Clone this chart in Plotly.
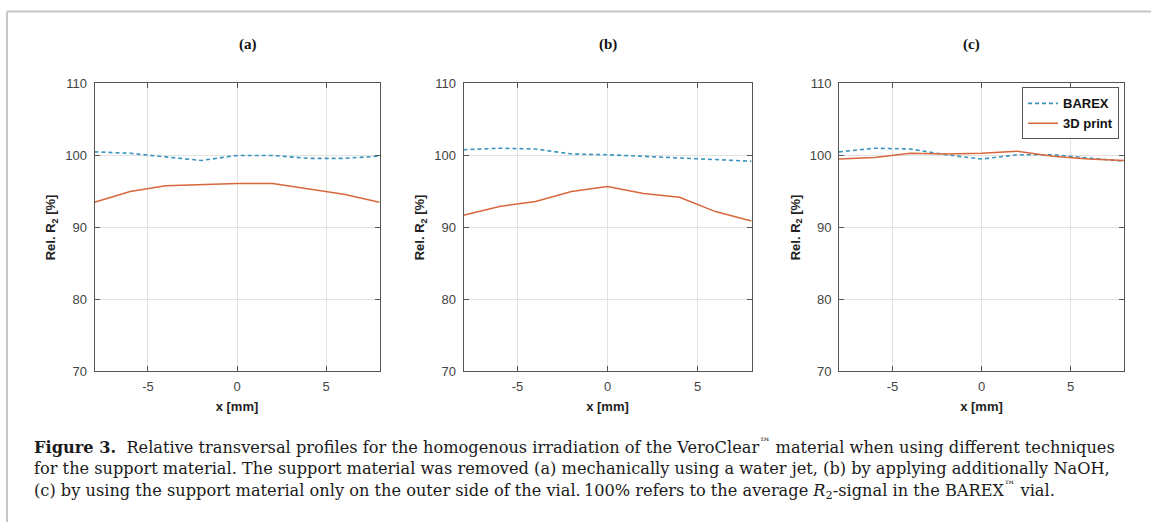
import plotly.graph_objects as go

# Transversal position of the profile samples (mm)
x_mm = [-8, -6, -4, -2, 0, 2, 4, 6, 8]

# Relative R2 (%) per panel: BAREX reference vial vs. 3D printed vial
barex_a = [100.5, 100.3, 99.8, 99.3, 100.0, 100.0, 99.6, 99.6, 99.9]
print_a = [93.5, 95.0, 95.8, 96.0, 96.1, 96.1, 95.3, 94.6, 93.5]

barex_b = [100.8, 101.0, 100.9, 100.2, 100.1, 99.9, 99.6, 99.4, 99.2]
print_b = [91.7, 92.9, 93.6, 95.0, 95.7, 94.7, 94.2, 92.2, 90.9]

barex_c = [100.5, 101.0, 100.9, 100.1, 99.5, 100.1, 100.1, 99.6, 99.2]
print_c = [99.5, 99.7, 100.3, 100.2, 100.3, 100.6, 99.9, 99.5, 99.3]

panel_titles = ["(a)", "(b)", "(c)"]
series_names = ["BAREX", "3D print"]
x_ticks = [-5, 0, 5]
x_tick_text = ["-5", "0", "5"]
y_ticks = [70, 80, 90, 100, 110]

caption_lines = [
    "<b>Figure 3.</b>  Relative transversal profiles for the homogenous irradiation of the VeroClear<sup>™</sup> material when using different techniques",
    "for the support material. The support material was removed (a) mechanically using a water jet, (b) by applying additionally NaOH,",
    "(c) by using the support material only on the outer side of the vial.\u2009100% refers to the average <i>R</i><sub>2</sub>-signal in the BAREX<sup>™</sup> vial.",
]

# ---- layout geometry (pixels from top-left of the figure) ----
W, H = 1151, 530
left_px = [94.5, 463.5, 839.0]
right_px = [379.5, 751.5, 1124.0]
top_px, bottom_px = 78.7, 375.0
title_px = 38.6
caption_px = [452.2, 474.8, 497.4]
frame_top_px, frame_left_px = 4.6, 7
legend_right_px, legend_top_px = 1119, 82.8

BLUE = "#3a95bf"
ORANGE = "#d8683c"
AXIS = "#555555"
GRID = "#e2e2e2"
SANS = "Arial, Liberation Sans, sans-serif"
SERIF = "Liberation Serif, Times New Roman, serif"
CAPTION_SERIF = "DejaVu Serif, serif"


def px_x(p):
    return p / W


def px_y(p):
    return 1 - p / H


fig = go.Figure()
data = [(barex_a, print_a), (barex_b, print_b), (barex_c, print_c)]

for i, (barex, printed) in enumerate(data):
    sfx = "" if i == 0 else str(i + 1)
    fig.add_trace(go.Scatter(
        x=x_mm, y=barex, mode="lines", name=series_names[0],
        line=dict(color=BLUE, width=1.6, dash="4px,3px"),
        xaxis="x" + sfx, yaxis="y" + sfx, showlegend=(i == 2)))
    fig.add_trace(go.Scatter(
        x=x_mm, y=printed, mode="lines", name=series_names[1],
        line=dict(color=ORANGE, width=1.5),
        xaxis="x" + sfx, yaxis="y" + sfx, showlegend=(i == 2)))

    common = dict(
        showline=True, linecolor=AXIS, linewidth=1, mirror="ticks",
        ticks="inside", ticklen=5, tickcolor=AXIS, tickwidth=1,
        showgrid=True, gridcolor=GRID, gridwidth=1, zeroline=False,
        tickfont=dict(family=SANS, size=13, color="#444444"),
    )
    fig.update_layout(**{
        "xaxis" + sfx: dict(
            common, domain=[px_x(left_px[i]), px_x(right_px[i])],
            anchor="y" + sfx, range=[-8, 8],
            tickmode="array", tickvals=x_ticks, ticktext=x_tick_text,
            ticklabelstandoff=3,
            title=dict(text="<b>x [mm]</b>", standoff=8,
                       font=dict(family=SANS, size=13, color="#222222")),
        ),
        "yaxis" + sfx: dict(
            common, domain=[px_y(bottom_px), px_y(top_px)],
            anchor="x" + sfx, range=[70, 110],
            tickmode="array", tickvals=y_ticks,
            ticklabelstandoff=4,
            title=dict(text="<b>Rel. R<sub>2</sub> [%]</b>", standoff=6,
                       font=dict(family=SANS, size=13, color="#222222")),
        ),
    })
    fig.add_annotation(
        x=(px_x(left_px[i]) + px_x(right_px[i])) / 2, y=px_y(title_px),
        xref="paper", yref="paper", yanchor="middle", showarrow=False,
        text="<b>%s</b>" % panel_titles[i],
        font=dict(family=SERIF, size=15, color="#111111"))

# Caption below the panels
for k, line in enumerate(caption_lines):
    fig.add_annotation(
        x=px_x(32), y=px_y(caption_px[k]), xref="paper", yref="paper",
        xanchor="left", yanchor="middle", showarrow=False, text=line,
        font=dict(family=CAPTION_SERIF, size=16.2, color="#1a1a1a"))

# Frame lines of the figure box (top and left edges)
fig.add_shape(type="line", xref="paper", yref="paper",
              x0=px_x(frame_left_px), x1=1,
              y0=px_y(frame_top_px), y1=px_y(frame_top_px),
              line=dict(color="#c6c6c6", width=2))
fig.add_shape(type="line", xref="paper", yref="paper",
              x0=px_x(frame_left_px), x1=px_x(frame_left_px),
              y0=px_y(frame_top_px), y1=0,
              line=dict(color="#c6c6c6", width=2))

fig.update_layout(
    width=W, height=H,
    margin=dict(l=0, r=0, t=0, b=0),
    paper_bgcolor="white", plot_bgcolor="white",
    legend=dict(
        x=px_x(legend_right_px), y=px_y(legend_top_px),
        xanchor="right", yanchor="top",
        bgcolor="white", bordercolor=AXIS, borderwidth=1,
        font=dict(family=SANS, size=13, color="#111111", weight="bold"),
        itemwidth=30, tracegroupgap=0,
    ),
)

fig.write_html("out.html")
